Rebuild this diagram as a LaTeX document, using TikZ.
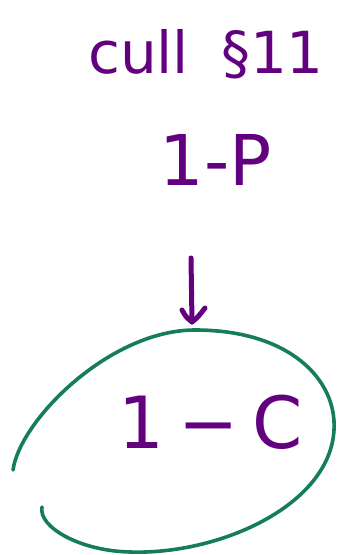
\documentclass[tikz,border=0pt]{standalone}
\usepackage{fontspec}
\setmainfont{DejaVu Sans}
\definecolor{inkpurple}{RGB}{98,0,128}
\definecolor{inkgreen}{RGB}{22,125,90}
\begin{document}
\begin{tikzpicture}[x=1pt,y=1pt,
  hand/.style={text=inkpurple,inner sep=0pt,anchor=center},
  arrowline/.style={draw=inkpurple,line width=5pt,line cap=round,line join=round},
  loop/.style={draw=inkgreen,line width=3.6pt,line cap=round}]
\useasboundingbox (0,0) rectangle (339,555);
% texts (y measured from top: y_tikz = 555 - y_img)
\node[hand,font=\fontsize{58}{58}\selectfont] (title) at (206,501) {cull\hspace{32pt}§11};
\node[hand,font=\fontsize{70}{70}\selectfont] (prob) at (216,395) {1-P};
\node[hand,font=\fontsize{72}{72}\selectfont] (inner) at (211,133) {1\hspace{14pt}−\hspace{14pt}C};
% arrow
\coordinate (atop) at (191,297);
\coordinate (atip) at (192,233);
\coordinate (hl) at (182,245);
\coordinate (hr) at (205,247);
\draw[arrowline] (atop) -- (atip);
\draw[arrowline] (hl) .. controls (186,238) .. (atip) .. controls (198,238) .. (hr);
% green loop
\coordinate (lstart) at (13,85);
\coordinate (lend) at (42,48);
\draw[loop] (lstart) .. controls (20,135) and (110,225) .. (195,225)
  .. controls (290,225) and (337,175) .. (334,125)
  .. controls (330,50) and (220,0) .. (130,3)
  .. controls (80,4) and (38,28) .. (lend);
\end{tikzpicture}
\end{document}
